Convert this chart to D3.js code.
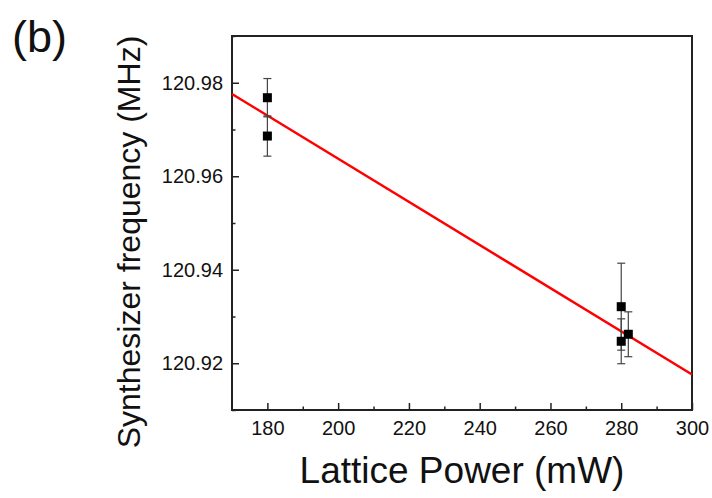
<!DOCTYPE html>
<html>
<head>
<meta charset="utf-8">
<script src="https://cdn.jsdelivr.net/npm/d3@7"></script>
<style>
  body { margin: 0; background: #fff; }
  text { font-family: "Liberation Sans", Arial, sans-serif; }
</style>
</head>
<body>
<div id="container"></div>
<script>
const width = 712;
const height = 498;
const plotLeft = 232, plotRight = 692, plotTop = 36, plotBottom = 410;

// measurements: lattice power (mW), synthesizer frequency (MHz), error (MHz)
const power = [180, 180, 280, 280, 282];
const freq = [120.9768, 120.9686, 120.9321, 120.9247, 120.9262];
const err = [0.0041, 0.0043, 0.0093, 0.0048, 0.0048];

// linear fit, end points
const fitX = [170, 300];
const fitY = [120.9776, 120.9176];

const xTicks = [180, 200, 220, 240, 260, 280, 300];
const xMinor = [190, 210, 230, 250, 270, 290];
const yTicks = [120.92, 120.94, 120.96, 120.98];
const yMinor = [120.91, 120.93, 120.95, 120.97, 120.99];

const svg = d3.select("#container").append("svg").attr("width", width).attr("height", height);

const xScale = d3.scaleLinear().domain([170, 300]).range([plotLeft, plotRight]);
const yScale = d3.scaleLinear().domain([120.91, 120.99]).range([plotBottom, plotTop]);

// frame
svg.append("rect").attr("x", plotLeft).attr("y", plotTop)
  .attr("width", plotRight - plotLeft).attr("height", plotBottom - plotTop)
  .attr("fill", "none").attr("stroke", "#222").attr("stroke-width", 2);

// x axis
let xAxis = svg.append("g").attr("transform", "translate(0," + plotBottom + ")")
  .call(d3.axisBottom(xScale).tickValues(xTicks).tickSizeInner(-7).tickSizeOuter(0).tickPadding(11));
xAxis.select(".domain").remove();
xAxis.selectAll("line").attr("stroke", "#222").attr("stroke-width", 1.5);
xAxis.selectAll("text").attr("font-size", 20).attr("fill", "#111")
  .attr("font-family", "'Liberation Sans', Arial, sans-serif");
let xMinorG = svg.append("g").attr("transform", "translate(0," + plotBottom + ")")
  .call(d3.axisBottom(xScale).tickValues(xMinor).tickSizeInner(-3.5).tickSizeOuter(0).tickFormat(""));
xMinorG.select(".domain").remove();
xMinorG.selectAll("line").attr("stroke", "#222").attr("stroke-width", 1.5);

// y axis
let yAxis = svg.append("g").attr("transform", "translate(" + plotLeft + ",0)")
  .call(d3.axisLeft(yScale).tickValues(yTicks).tickFormat(d3.format(".2f")).tickSizeInner(-7).tickSizeOuter(0).tickPadding(9));
yAxis.select(".domain").remove();
yAxis.selectAll("line").attr("stroke", "#222").attr("stroke-width", 1.5);
yAxis.selectAll("text").attr("font-size", 20).attr("fill", "#111")
  .attr("font-family", "'Liberation Sans', Arial, sans-serif");
let yMinorG = svg.append("g").attr("transform", "translate(" + plotLeft + ",0)")
  .call(d3.axisLeft(yScale).tickValues(yMinor).tickSizeInner(-3.5).tickSizeOuter(0).tickFormat(""));
yMinorG.select(".domain").remove();
yMinorG.selectAll("line").attr("stroke", "#222").attr("stroke-width", 1.5);

// fit line
const line = d3.line().x(d => xScale(d[0])).y(d => yScale(d[1]));
svg.append("path").datum(d3.zip(fitX, fitY)).attr("d", line)
  .attr("fill", "none").attr("stroke", "#ff0000").attr("stroke-width", 2.5);

// error bars
const pts = power.map((p, i) => ({x: p, y: freq[i], e: err[i]}));
const bars = svg.append("g").attr("stroke", "#444").attr("stroke-width", 1.2);
bars.selectAll(".eb").data(pts).enter().append("line")
  .attr("x1", d => xScale(d.x)).attr("x2", d => xScale(d.x))
  .attr("y1", d => yScale(d.y + d.e)).attr("y2", d => yScale(d.y - d.e));
bars.selectAll(".capTop").data(pts).enter().append("line")
  .attr("x1", d => xScale(d.x) - 4).attr("x2", d => xScale(d.x) + 4)
  .attr("y1", d => yScale(d.y + d.e)).attr("y2", d => yScale(d.y + d.e));
bars.selectAll(".capBot").data(pts).enter().append("line")
  .attr("x1", d => xScale(d.x) - 4).attr("x2", d => xScale(d.x) + 4)
  .attr("y1", d => yScale(d.y - d.e)).attr("y2", d => yScale(d.y - d.e));

// markers
svg.selectAll(".pt").data(pts).enter().append("rect")
  .attr("x", d => xScale(d.x) - 4.5).attr("y", d => yScale(d.y) - 4.5)
  .attr("width", 9).attr("height", 9).attr("fill", "#000");

// titles
svg.append("text").text("Lattice Power (mW)")
  .attr("x", (plotLeft + plotRight) / 2).attr("y", 483)
  .attr("text-anchor", "middle").attr("font-size", 37).attr("fill", "#111");

svg.append("text").text("Synthesizer frequency (MHz)")
  .attr("transform", "translate(140,242) rotate(-90)")
  .attr("text-anchor", "middle").attr("font-size", 32).attr("fill", "#111");

svg.append("text").text("(b)")
  .attr("x", 12).attr("y", 52)
  .attr("font-size", 45).attr("fill", "#111");
</script>
</body>
</html>
